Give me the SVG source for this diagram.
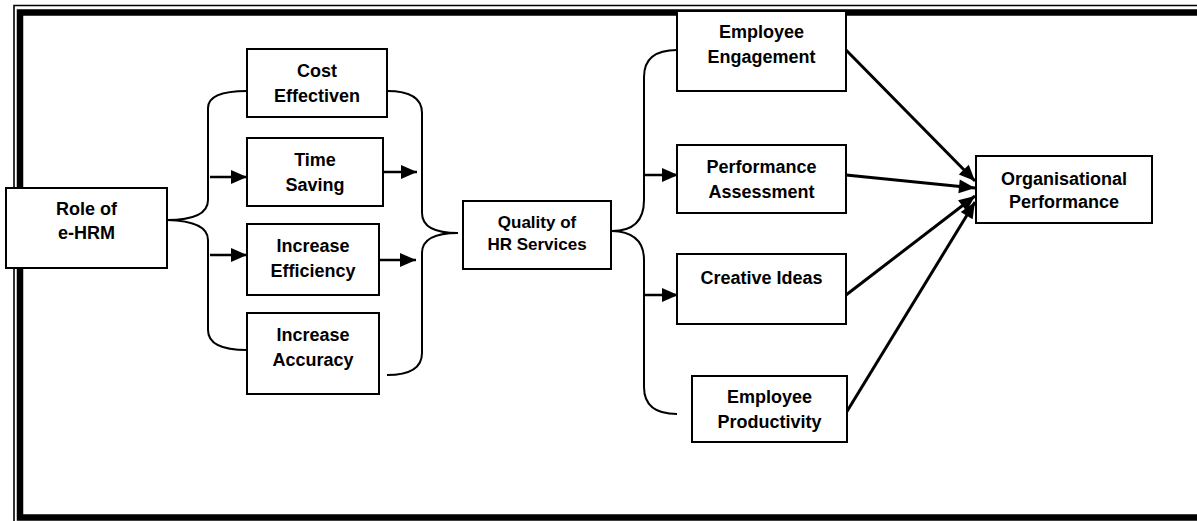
<svg xmlns="http://www.w3.org/2000/svg" width="1197" height="521" viewBox="0 0 1197 521">
  <style>
    .box { fill: #fff; stroke: #000; stroke-width: 2; }
    .lbl { font-family: "Liberation Sans", Arial, sans-serif; font-weight: bold; font-size: 18px; text-anchor: middle; fill: #000; }
    .sm { font-size: 17px; }
    .brace { fill: none; stroke: #000; stroke-width: 2; }
    .arr { fill: none; stroke: #000; stroke-width: 2.5; marker-end: url(#head); }
    .ray { fill: none; stroke: #000; stroke-width: 3; marker-end: url(#head); }
  </style>
  <defs>
    <marker id="head" markerUnits="userSpaceOnUse" markerWidth="17" markerHeight="15" refX="16" refY="7" orient="auto" overflow="visible">
      <path d="M0,0 L16,7 L0,14 Z" fill="#000"/>
    </marker>
  </defs>

  <rect width="1197" height="521" fill="#fff"/>

  <!-- page frame: thin outer rule and heavy inner rule -->
  <g id="frame">
    <path d="M14,521 L14,5.5 L1197,5.5" fill="none" stroke="#000" stroke-width="1.6"/>
    <rect x="20" y="12.5" width="1200" height="505" fill="none" stroke="#000" stroke-width="6.5"/>
  </g>

  <g id="connectors">
    <!-- braces from Role of e-HRM -->
    <path class="brace" d="M167,220 Q208,220 208,200 L208,108 Q208,91 247,91"/>
    <path class="brace" d="M167,220 Q208,221 208,240 L208,330 Q208,350 247,350"/>
    <path class="arr" d="M210,177 L247,177"/>
    <path class="arr" d="M210,255 L247,255"/>

    <!-- braces into Quality of HR Services -->
    <path class="brace" d="M387,91 Q422,91 422,113 L422,213 Q422,233 458,233"/>
    <path class="brace" d="M458,233 Q422,233 422,253 L422,353 Q422,375 387,375"/>
    <path class="arr" d="M383,172 L417,172"/>
    <path class="arr" d="M379,260 L416,260"/>

    <!-- braces out of Quality of HR Services -->
    <path class="brace" d="M612,231 Q644,231 644,200 L644,77 Q644,50 677,50"/>
    <path class="brace" d="M612,231 Q644,232 644,260 L644,387 Q644,414 677,414"/>
    <path class="arr" d="M644,175 L678,175"/>
    <path class="arr" d="M644,295 L678,295"/>

    <!-- rays into Organisational Performance -->
    <path class="ray" d="M846,50 L975,181"/>
    <path class="ray" d="M846,175 L975,188"/>
    <path class="ray" d="M846,295 L975,196"/>
    <path class="ray" d="M846,413 L975,202"/>
  </g>

  <g id="role">
    <rect class="box" x="6" y="188" width="161" height="80"/>
    <text class="lbl" x="86.5" y="215">Role of</text>
    <text class="lbl" x="86.5" y="239">e-HRM</text>
  </g>

  <g id="cost">
    <rect class="box" x="247" y="49" width="140" height="68"/>
    <text class="lbl" x="317" y="77">Cost</text>
    <text class="lbl" x="317" y="102">Effectiven</text>
  </g>

  <g id="time">
    <rect class="box" x="247" y="138" width="136" height="68"/>
    <text class="lbl" x="315" y="166">Time</text>
    <text class="lbl" x="315" y="191">Saving</text>
  </g>

  <g id="efficiency">
    <rect class="box" x="247" y="224" width="132" height="71"/>
    <text class="lbl" x="313" y="252">Increase</text>
    <text class="lbl" x="313" y="277">Efficiency</text>
  </g>

  <g id="accuracy">
    <rect class="box" x="247" y="313" width="132" height="81"/>
    <text class="lbl" x="313" y="341">Increase</text>
    <text class="lbl" x="313" y="366">Accuracy</text>
  </g>

  <g id="quality">
    <rect class="box" x="463" y="201" width="148" height="68"/>
    <text class="lbl sm" x="537" y="228">Quality of</text>
    <text class="lbl sm" x="537" y="250">HR Services</text>
  </g>

  <g id="engagement">
    <rect class="box" x="677" y="11" width="169" height="80"/>
    <text class="lbl" x="761.5" y="38">Employee</text>
    <text class="lbl" x="761.5" y="63">Engagement</text>
  </g>

  <g id="assessment">
    <rect class="box" x="677" y="145" width="169" height="68"/>
    <text class="lbl" x="761.5" y="173">Performance</text>
    <text class="lbl" x="761.5" y="198">Assessment</text>
  </g>

  <g id="creative">
    <rect class="box" x="677" y="254" width="169" height="70"/>
    <text class="lbl" x="761.5" y="284">Creative Ideas</text>
  </g>

  <g id="productivity">
    <rect class="box" x="692" y="376" width="155" height="66"/>
    <text class="lbl" x="769.5" y="403">Employee</text>
    <text class="lbl" x="769.5" y="428">Productivity</text>
  </g>

  <g id="organisational">
    <rect class="box" x="976" y="156" width="176" height="67"/>
    <text class="lbl" x="1064" y="185">Organisational</text>
    <text class="lbl" x="1064" y="208">Performance</text>
  </g>
</svg>
